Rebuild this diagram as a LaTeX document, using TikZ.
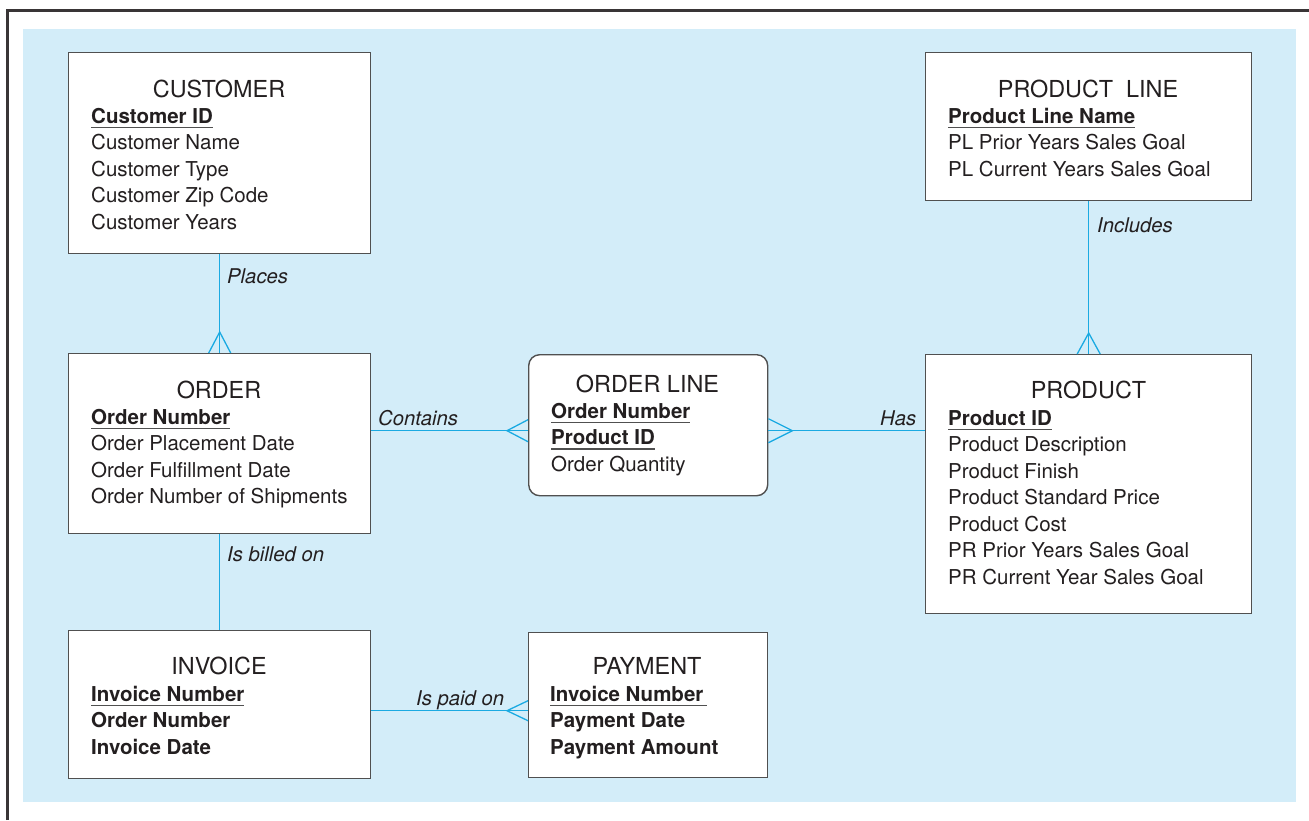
\documentclass[tikz,border=0pt]{standalone}
\usepackage{fontspec}
\setmainfont{TeX Gyre Heros}
\definecolor{bgblue}{RGB}{211,237,249}
\definecolor{relblue}{RGB}{26,170,226}
\definecolor{ink}{RGB}{35,31,32}
\definecolor{boxgray}{RGB}{80,80,80}
\newcommand{\keyattr}[1]{\textbf{\setbox0\hbox{#1}\rlap{\color{boxgray}\rule[-5pt]{\wd0}{1.5pt}}\box0}}

\begin{document}
\begin{tikzpicture}[x=1pt,y=-1pt,
  entity/.style={draw=boxgray,line width=1.4pt,fill=white,inner sep=0pt,anchor=north west},
  enttitle/.style={anchor=base,inner sep=0pt,text=ink,font=\fontsize{23.4}{28}\selectfont},
  attr/.style={anchor=base west,inner sep=0pt,text=ink,font=\fontsize{20.5}{26.5}\selectfont},
  rel/.style={draw=relblue,line width=1.3pt},
  rlabel/.style={anchor=base west,inner sep=0pt,text=ink,font=\fontsize{20.3}{24}\selectfont\itshape}]
\useasboundingbox (0,0) rectangle (1309,820);
\fill[bgblue] (23,29) rectangle (1296,802);
\draw[line width=2.6pt,draw=ink!90] (7.3,820) -- (7.3,10.5) -- (1309,10.5);

% entities
\node[entity,minimum width=302pt,minimum height=201pt] (customer) at (68,52) {};
\node[entity,minimum width=326pt,minimum height=148pt] (productline) at (925,52) {};
\node[entity,minimum width=302pt,minimum height=180pt] (order) at (68,353) {};
\node[entity,rounded corners=11pt,minimum width=239pt,minimum height=141pt] (orderline) at (528,354) {};
\node[entity,minimum width=326pt,minimum height=259pt] (product) at (925,354) {};
\node[entity,minimum width=302pt,minimum height=148pt] (invoice) at (68,630) {};
\node[entity,minimum width=239pt,minimum height=145pt] (payment) at (528,632) {};

% relationships
\draw[rel] (customer) -- (order);
\draw[rel] ([xshift=-11pt]order.north) -- ([yshift=21pt]order.north) -- ([xshift=11pt]order.north);
\draw[rel] (productline) -- (product);
\draw[rel] ([xshift=-11.5pt]product.north) -- ([yshift=21pt]product.north) -- ([xshift=11.5pt]product.north);
\draw[rel] ([yshift=-5.5pt]orderline.west -| order.east) -- ([yshift=-5.5pt]orderline.west);
\draw[rel] ([yshift=5.5pt]orderline.west) -- ([xshift=-21pt,yshift=-5.5pt]orderline.west) -- ([yshift=-16.5pt]orderline.west);
\draw[rel] ([yshift=-5.5pt]orderline.east) -- ([yshift=-5.5pt]orderline.east -| product.west);
\draw[rel] ([yshift=6.5pt]orderline.east) -- ([xshift=24pt,yshift=-5.5pt]orderline.east) -- ([yshift=-17.5pt]orderline.east);
\draw[rel] (order) -- (invoice);
\draw[rel] ([yshift=-5.5pt]payment.west -| invoice.east) -- ([yshift=-5.5pt]payment.west);
\draw[rel] ([yshift=4.5pt]payment.west) -- ([xshift=-21pt,yshift=-5.5pt]payment.west) -- ([yshift=-15.5pt]payment.west);

\node[rlabel] (places) at (227,283) {Places};
\node[rlabel] (includes) at (1097,232) {Includes};
\node[rlabel] (contains) at (378,425) {Contains};
\node[rlabel] (has) at (880,425) {Has};
\node[rlabel] (billed) at (227,561) {Is billed on};
\node[rlabel] (paid) at (416,705) {Is paid on};

% attributes
\node[enttitle] (customer-t) at (219,97) {CUSTOMER};
\foreach \a [count=\i from 0] in {\keyattr{Customer ID},Customer Name,Customer Type,Customer Zip Code,Customer Years}
  \node[attr] (customer-\i) at (91,{123+26.5*\i}) {\a};
\node[enttitle] (productline-t) at (1088,97) {PRODUCT\hspace{0.55em}LINE};
\foreach \a [count=\i from 0] in {\keyattr{Product Line Name},PL Prior Years Sales Goal,PL Current Years Sales Goal}
  \node[attr] (productline-\i) at (948,{123+26.5*\i}) {\a};
\node[enttitle] (order-t) at (219,398) {ORDER};
\foreach \a [count=\i from 0] in {\keyattr{Order Number},Order Placement Date,Order Fulfillment Date,Order Number of Shipments}
  \node[attr] (order-\i) at (91,{424+26.5*\i}) {\a};
\node[enttitle] (orderline-t) at (647.5,392) {ORDER LINE};
\foreach \a [count=\i from 0] in {\keyattr{Order Number},\keyattr{Product ID},Order Quantity}
  \node[attr] (orderline-\i) at (551,{418+26.5*\i}) {\a};
\node[enttitle] (product-t) at (1088.5,398) {PRODUCT};
\foreach \a [count=\i from 0] in {\keyattr{Product ID},Product Description,Product Finish,Product Standard Price,Product Cost,PR Prior Years Sales Goal,PR Current Year Sales Goal}
  \node[attr] (product-\i) at (948,{425+26.5*\i}) {\a};
\node[enttitle] (invoice-t) at (219,674) {INVOICE};
\foreach \a [count=\i from 0] in {\keyattr{Invoice Number},\textbf{Order Number},\textbf{Invoice Date}}
  \node[attr] (invoice-\i) at (91,{701+26.5*\i}) {\a};
\node[enttitle] (payment-t) at (647,674) {PAYMENT};
\foreach \a [count=\i from 0] in {\keyattr{Invoice Number\,},\textbf{Payment Date},\textbf{Payment Amount}}
  \node[attr] (payment-\i) at (550,{701+26.5*\i}) {\a};
\end{tikzpicture}
\end{document}
